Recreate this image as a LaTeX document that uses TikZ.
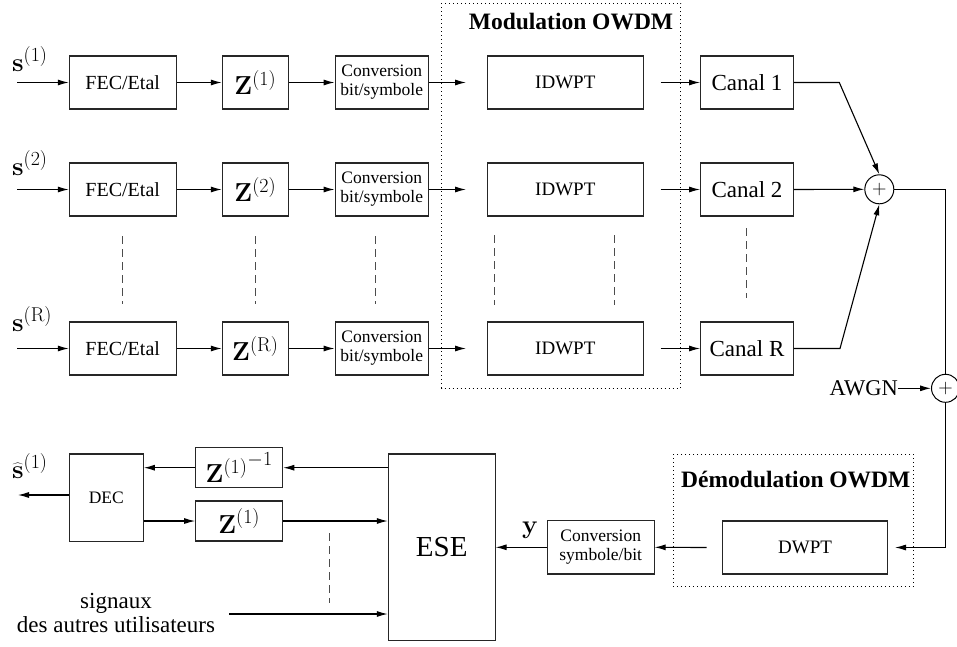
\RequirePackage{fix-cm}
\documentclass[tikz,border=0pt]{standalone}
\usepackage[no-math]{fontspec}
\setmainfont{Liberation Serif}
\usetikzlibrary{arrows.meta}
\DeclareMathSizes{26}{26}{20}{15}
\newcommand{\fsz}[2]{\fontsize{#1pt}{#2pt}\selectfont}
\begin{document}
\begin{tikzpicture}[x=1pt,y=-1pt,
  blk/.style={draw=black!85, line width=1.1pt, inner sep=0pt, align=center},
  arr/.style={draw=black, line width=1.1pt, -{Latex[length=11pt,width=6pt]}},
  ln/.style={draw=black, line width=1.1pt},
  dotbox/.style={draw=black, line width=1pt, dash pattern=on 1pt off 3pt},
  vdash/.style={draw=black!70, line width=1pt, dash pattern=on 8pt off 5pt},
  sumnode/.style={circle, draw=black, line width=1pt, inner sep=0pt, font=\fsz{20}{22}},
  title/.style={inner sep=0pt, font=\bfseries\fsz{23.5}{26}},
  mathtxt/.style={font=\fsz{26}{28}}]
\useasboundingbox (0,0) rectangle (957,646);

% emitter branches
\foreach \r/\y/\s/\by in {1/82.5/1/71, 2/189.5/2/175, R/348.5/\mathrm{R}/331}{
  \node[blk, minimum width=106.7pt, minimum height=53pt, font=\fsz{20}{22}] (fec\r) at (122.7,\y) {FEC/Etal};
  \node[blk, minimum width=66pt, minimum height=53pt, mathtxt] (z\r) at (255.3,\y) {$\mathbf{Z}^{(\s)}$};
  \node[blk, minimum width=93.3pt, minimum height=53pt, font=\fsz{17.5}{19}] (cv\r) at (381.7,\y) {Conversion\\bit/symbole};
  \node[blk, minimum width=156pt, minimum height=53pt, font=\fsz{19}{21}] (idw\r) at (565.3,\y) {IDWPT};
  \node[blk, minimum width=92.7pt, minimum height=53pt, font=\fsz{23}{25}] (ch\r) at (747,\y) {Canal \r};
  \node[anchor=base west, inner sep=0pt, mathtxt] (lab\r) at (12,\by) {$\mathbf{s}^{(\s)}$};
  \coordinate (in\r) at (17,\y);
  \coordinate (mi\r) at (466,\y);
  \coordinate (mo\r) at (660.7,\y);
  \draw[arr] (in\r) -- (fec\r.west);
  \draw[arr] (fec\r.east) -- (z\r.west);
  \draw[arr] (z\r.east) -- (cv\r.west);
  \draw[arr] (cv\r.east) -- (mi\r);
  \draw[arr] (mo\r) -- (ch\r.west);
}

% omitted branches
\foreach \x in {122.7,255.7,375}{\draw[vdash] (\x,236) -- (\x,304);}
\foreach \x in {494.3,614}{\draw[vdash] (\x,235) -- (\x,305);}
\draw[vdash] (746.7,228) -- (746.7,298);

% modulation group
\draw[dotbox] (441.7,3.3) rectangle (680.7,388.3);
\node[title] (modt) at (571,22) {Modulation OWDM};

% channel sum and noise
\node[sumnode, minimum size=29pt] (sum1) at (879.3,189.3) {$+$};
\node[sumnode, minimum size=28pt] (sum2) at (945.5,388.3) {$+$};
\coordinate (b1) at (839.3,82.5);
\coordinate (bR) at (840,348.5);
\coordinate (c1) at (945.5,189.3);
\draw[arr] (ch1.east) -- (b1) -- (sum1.north);
\draw[arr] (ch2.east) -- (sum1.west);
\draw[arr] (chR.east) -- (bR) -- (sum1.south);
\draw[ln] (sum1.east) -- (c1) -- (sum2.north);
\node[anchor=east, inner sep=0pt, font=\fsz{22.5}{24}] (awgn) at (898,388.3) {AWGN};
\draw[arr] (awgn.east) -- (sum2.west);

% receiver
\draw[dotbox] (673.3,454.3) rectangle (913.3,586.7);
\node[title] (demt) at (795.8,480) {Démodulation OWDM};
\node[blk, minimum width=164.6pt, minimum height=53pt, font=\fsz{19}{21}] (dwpt) at (805,547.5) {DWPT};
\node[blk, minimum width=106.7pt, minimum height=53.3pt, font=\fsz{17.5}{19}] (cv) at (600.7,547.3) {Conversion\\symbole/bit};
\node[blk, minimum width=106.7pt, minimum height=186.7pt, font=\fsz{29}{31}] (ese) at (441.7,547.3) {ESE};
\node[blk, minimum width=74pt, minimum height=87.7pt, font=\fsz{17.5}{19}] (dec) at (106.3,497.8) {DEC};
\node[blk, minimum width=87pt, minimum height=40pt, mathtxt] (zinv) at (239.2,467.7) {${\mathbf{Z}^{(1)}}^{-1}$};
\node[blk, minimum width=87pt, minimum height=40pt, mathtxt] (zlo) at (239.2,521) {$\mathbf{Z}^{(1)}$};
\coordinate (c2) at (945.5,547.5);
\coordinate (dwin) at (895,547.5);
\coordinate (dwout) at (706.7,547.5);
\coordinate (out) at (18,495);
\coordinate (sig) at (229.3,614);
\draw[ln] (sum2.south) -- (c2);
\draw[arr] (c2) -- (dwin);
\draw[arr] (dwout) -- (cv.east);
\draw[arr] (cv.west) -- (ese.east |- cv.west);
\node[inner sep=0pt, mathtxt] (ylab) at (530,530) {$\mathbf{y}$};
\draw[arr] (ese.west |- zinv.east) -- (zinv.east);
\draw[arr] (zinv.west) -- (dec.east |- zinv.west);
\draw[arr] (dec.west |- out) -- (out);
\draw[arr] (dec.east |- zlo.west) -- (zlo.west);
\draw[arr] (zlo.east) -- (ese.west |- zlo.east);
\draw[arr] (sig) -- (ese.west |- sig);
\draw[vdash] (329,533.3) -- (329,603.3);
\node[anchor=base west, inner sep=0pt, mathtxt] (shat) at (12,478) {$\widehat{\mathbf{s}}^{(1)}$};
\node[align=center, inner sep=0pt, font=\fsz{23}{24.5}] (sigt) at (116,613) {signaux\\des autres utilisateurs};
\end{tikzpicture}
\end{document}
